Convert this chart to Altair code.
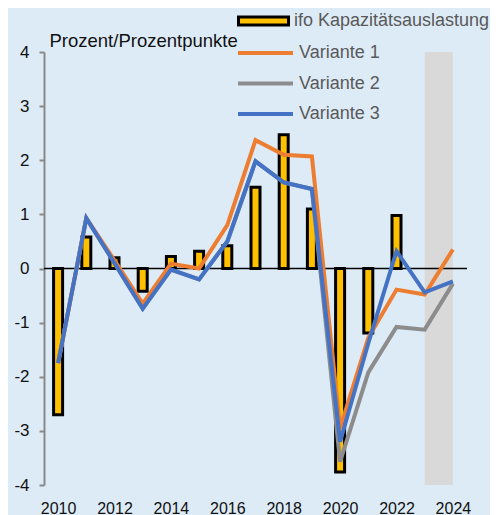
import altair as alt
import pandas as pd

# ---- data ----
years = list(range(2010, 2025))
bar_years = list(range(2010, 2023))
kapazitaet = [-2.70, 0.58, 0.20, -0.42, 0.22, 0.32, 0.42, 1.50, 2.47, 1.10, -3.76, -1.19, 0.98]
variante1 = [-1.75, 0.93, 0.15, -0.65, 0.09, 0.00, 0.80, 2.37, 2.10, 2.07, -2.95, -1.28, -0.39, -0.48, 0.35]
variante2 = [-1.75, 0.93, 0.10, -0.74, -0.02, -0.20, 0.50, 1.98, 1.59, 1.47, -3.57, -1.92, -1.08, -1.13, -0.28]
variante3 = [-1.75, 0.93, 0.10, -0.74, -0.02, -0.20, 0.50, 1.98, 1.59, 1.47, -3.20, -1.38, 0.32, -0.44, -0.24]
bar_name = "ifo Kapazitätsauslastung"
line_names = ["Variante 1", "Variante 2", "Variante 3"]
line_colors = ["#ED7D31", "#8C8C8C", "#4472C4"]
x_ticks = list(range(2010, 2025, 2))
y_ticks = list(range(-4, 5))
x_domain = [2009.5, 2024.5]
y_domain = [-4, 4]
forecast_years = [2023, 2024]

FONT = "Liberation Sans"

bars_df = pd.DataFrame({"year": bar_years, "value": kapazitaet, "series": bar_name})
lines = {
    "Variante 1": variante1,
    "Variante 2": variante2,
    "Variante 3": variante3,
}
band_df = pd.DataFrame({"x": [forecast_years[0]], "x2": [forecast_years[1]],
                        "y": [y_domain[0]], "y2": [y_domain[1]]})
zero_df = pd.DataFrame({"x": [x_domain[0]], "x2": [x_domain[1]], "y": [0]})

xscale = alt.Scale(domain=x_domain, nice=False, zero=False, padding=0)
yscale = alt.Scale(domain=y_domain, nice=False, padding=0)

x_axis = alt.Axis(values=x_ticks, labelExpr="'' + datum.value", grid=False, domain=False,
                  ticks=False, tickSize=0, labelPadding=15, labelFontSize=16,
                  labelColor="#111111", labelFont=FONT, title=None)
y_axis = alt.Axis(values=y_ticks, labelExpr="'' + datum.value", grid=False,
                  domainColor="#898989", domainWidth=2, tickColor="#898989", tickWidth=2,
                  tickSize=5, labelPadding=10, labelFontSize=17, labelColor="#111111",
                  labelFont=FONT,
                  title="Prozent/Prozentpunkte", titleAngle=0, titleAlign="left",
                  titleBaseline="alphabetic", titleX=5, titleY=-6, titleFontSize=18.5,
                  titleFontWeight="normal", titleFont=FONT, titleColor="#111111")

band = alt.Chart(band_df).mark_rect(color="#D9D9D9").encode(
    x=alt.X("x:Q", scale=xscale, axis=x_axis), x2="x2:Q",
    y=alt.Y("y:Q", scale=yscale, axis=y_axis), y2="y2:Q",
)

bars = alt.Chart(bars_df).mark_bar(size=9, stroke="black", strokeWidth=3).encode(
    x=alt.X("year:Q", scale=xscale),
    y=alt.Y("value:Q", scale=yscale),
    fill=alt.Fill("series:N", scale=alt.Scale(domain=[bar_name], range=["#FFC000"]),
                  legend=alt.Legend(orient="none", legendX=193, legendY=-45, title=None,
                                    padding=0, clipHeight=28, rowPadding=2,
                                    symbolType="M-1,-0.16H1V0.16H-1Z", symbolSize=2500,
                                    symbolStrokeColor="black", symbolStrokeWidth=3,
                                    labelFontSize=18, labelColor="#595959", labelFont=FONT,
                                    labelOffset=4, labelLimit=400)),
)

zero = alt.Chart(zero_df).mark_rule(color="black", strokeWidth=1.5).encode(
    x="x:Q", x2="x2:Q", y="y:Q"
)

stroke_scale = alt.Scale(domain=line_names, range=line_colors)
line_legend = alt.Legend(orient="none", legendX=192, legendY=-13, title=None, padding=0,
                         clipHeight=28, rowPadding=2.5, symbolType="stroke", symbolSize=3025,
                         symbolStrokeWidth=4, labelFontSize=18, labelColor="#595959",
                         labelFont=FONT, labelOffset=4, labelLimit=400)

line_layers = []
for name in ["Variante 2", "Variante 1", "Variante 3"]:
    df = pd.DataFrame({"year": years, "value": lines[name], "series": name})
    line_layers.append(
        alt.Chart(df).mark_line(strokeWidth=4).encode(
            x=alt.X("year:Q", scale=xscale),
            y=alt.Y("value:Q", scale=yscale),
            stroke=alt.Stroke("series:N", scale=stroke_scale, legend=line_legend),
        )
    )

chart = alt.layer(band, bars, zero, *line_layers).properties(
    width=423, height=433,
    background="#DDEBF7",
    padding={"left": 36, "top": 44, "right": 23, "bottom": 30},
    autosize=alt.AutoSizeParams(type="none"),
).configure_view(stroke=None)

chart.save("out.html", embed_options={"renderer": "svg", "actions": False})
